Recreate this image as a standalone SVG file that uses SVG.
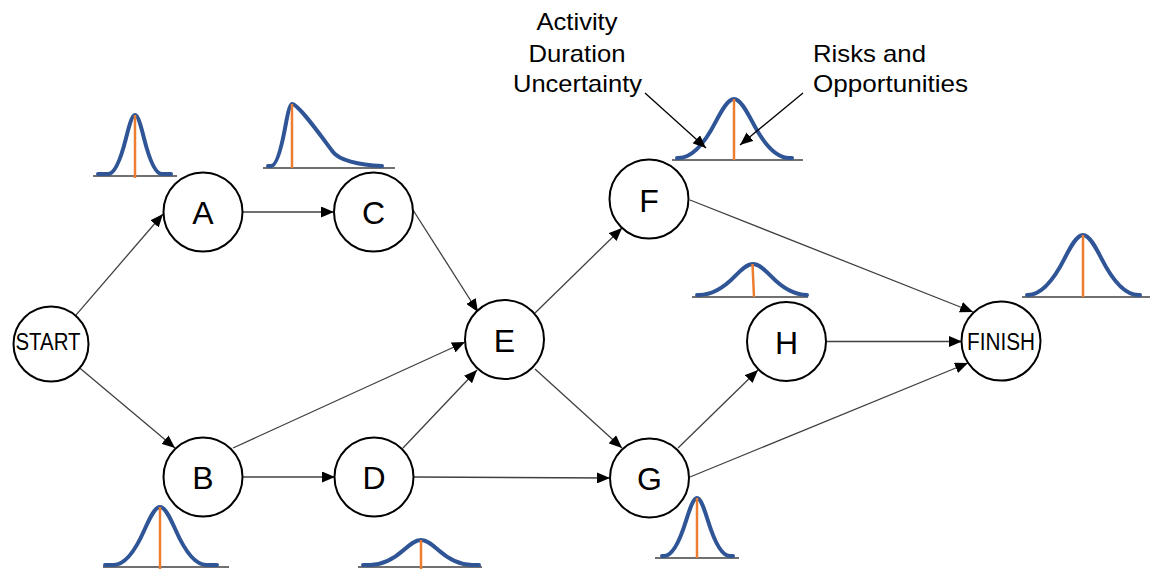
<svg xmlns="http://www.w3.org/2000/svg" width="1151" height="569" viewBox="0 0 1151 569">
  <style>
    .node circle { fill: #ffffff; stroke: #000000; stroke-width: 2; }
    .lbl { font-family: "Liberation Sans", Arial, sans-serif; font-size: 32px; fill: #000000; text-anchor: middle; }
    .lbl-sm { font-family: "Liberation Sans", Arial, sans-serif; font-size: 23px; fill: #000000; text-anchor: middle; }
    .note { font-family: "Liberation Sans", Arial, sans-serif; font-size: 24px; fill: #000000; }
    .edge { stroke: #404040; stroke-width: 1.3; fill: none; marker-end: url(#arrow); }
    .pointer { stroke: #000000; stroke-width: 1.3; fill: none; marker-end: url(#arrow); }
    .axis { stroke: #404040; stroke-width: 1.4; }
    .curve { fill: none; stroke: #2F5597; stroke-width: 4; stroke-linecap: round; stroke-linejoin: round; }
    .mean { stroke: #ED7D31; stroke-width: 2.5; }
  </style>
  <defs>
    <marker id="arrow" markerUnits="userSpaceOnUse" markerWidth="13" markerHeight="11" refX="13" refY="5.5" orient="auto">
      <path d="M0,0 L13,5.5 L0,11 Z" fill="#000000"/>
    </marker>
  </defs>

  <rect width="1151" height="569" fill="#ffffff"/>

  <!-- duration distributions -->
  <g id="distributions">
    <g id="dist-a">
      <line class="axis" x1="93" y1="176" x2="177" y2="176"/>
      <path class="curve" d="M98,174 H108 C114,174 120,162.1 126,138.2 C129,126.3 132,115 135,115 C138,115 141,126.3 144,138.2 C150,162.1 156,174 162,174 H171"/>
      <line class="mean" x1="135" y1="115" x2="135" y2="178"/>
    </g>
    <g id="dist-c">
      <line class="axis" x1="263" y1="168" x2="395" y2="168"/>
      <path class="curve" d="M268,166 H271 C275.7,166 280.3,153.5 285,128.4 C287.3,115.9 289.7,104 292,104 C298,104 318,132 333,152 C339,160 358,165 382,166"/>
      <line class="mean" x1="292" y1="104" x2="292" y2="168"/>
    </g>
    <g id="dist-f">
      <line class="axis" x1="672" y1="160" x2="803" y2="160"/>
      <path class="curve" d="M677,158 H678.5 C690.8,158 703.2,146.1 715.5,122.2 C721.7,110.3 727.8,99 734,99 C740.2,99 746.3,110.3 752.5,122.2 C764.8,146.1 777.2,158 789.5,158 H792"/>
      <line class="mean" x1="734" y1="99" x2="734" y2="160"/>
    </g>
    <g id="dist-h">
      <line class="axis" x1="692" y1="297" x2="808" y2="297"/>
      <path class="curve" d="M697,295 H699 C711,295 723,288.7 735,276.2 C741,269.9 747,264 753,264 C759,264 765,269.9 771,276.2 C783,288.7 795,295 807,295"/>
      <line class="mean" x1="752.5" y1="264" x2="754" y2="297"/>
    </g>
    <g id="dist-finish">
      <line class="axis" x1="1022" y1="297" x2="1150" y2="297"/>
      <path class="curve" d="M1027,295 H1027.5 C1039.8,295 1052.2,282.9 1064.5,258.6 C1070.7,246.5 1076.8,235 1083,235 C1089.2,235 1095.3,246.5 1101.5,258.6 C1113.8,282.9 1126.2,295 1138.5,295 H1140"/>
      <line class="mean" x1="1083" y1="235" x2="1083" y2="297"/>
    </g>
    <g id="dist-b">
      <line class="axis" x1="103" y1="567" x2="229" y2="567"/>
      <path class="curve" d="M105,565 H113.5 C123.8,565 134.2,553.3 144.5,529.8 C149.7,518.1 154.8,507 160,507 C165.2,507 170.3,518.1 175.5,529.8 C185.8,553.3 196.2,565 206.5,565 H217"/>
      <line class="mean" x1="160" y1="507" x2="160" y2="569"/>
    </g>
    <g id="dist-d">
      <line class="axis" x1="358" y1="567" x2="482" y2="567"/>
      <path class="curve" d="M363,565 H370 C381.3,565 392.7,559.9 404,549.8 C409.7,544.8 415.3,540 421,540 C426.7,540 432.3,544.8 438,549.8 C449.3,559.9 460.7,565 472,565 H479"/>
      <line class="mean" x1="421" y1="540" x2="421" y2="569"/>
    </g>
    <g id="dist-g">
      <line class="axis" x1="655" y1="558" x2="739" y2="558"/>
      <path class="curve" d="M662,556 H664 C671.3,556 678.7,544.3 686,520.8 C689.7,509.1 693.3,498 697,498 C700.7,498 704.3,509.1 708,520.8 C715.3,544.3 722.7,556 730,556 H733"/>
      <line class="mean" x1="697" y1="498" x2="697" y2="558"/>
    </g>
  </g>

  <!-- callouts for the F distribution -->
  <g id="annotations">
    <text class="note" text-anchor="middle" x="577" y="30" textLength="81" lengthAdjust="spacingAndGlyphs">Activity</text>
    <text class="note" text-anchor="middle" x="577" y="61.5" textLength="97" lengthAdjust="spacingAndGlyphs">Duration</text>
    <text class="note" text-anchor="middle" x="577.5" y="92" textLength="129" lengthAdjust="spacingAndGlyphs">Uncertainty</text>
    <text class="note" x="813" y="61.5" textLength="113" lengthAdjust="spacingAndGlyphs">Risks and</text>
    <text class="note" x="813" y="92" textLength="155" lengthAdjust="spacingAndGlyphs">Opportunities</text>
    <line class="pointer" x1="645" y1="93" x2="706" y2="148"/>
    <line class="pointer" x1="803" y1="93" x2="740" y2="145"/>
  </g>

  <!-- precedence links -->
  <g id="connectors">
    <line class="edge" x1="75.5" y1="315.6" x2="163" y2="214"/>
    <line class="edge" x1="79.7" y1="368.1" x2="175" y2="448"/>
    <line class="edge" x1="243" y1="212" x2="334" y2="212"/>
    <line class="edge" x1="243" y1="477" x2="335" y2="477"/>
    <line class="edge" x1="413" y1="210" x2="478" y2="312"/>
    <line class="edge" x1="233" y1="448" x2="465" y2="342"/>
    <line class="edge" x1="403" y1="448" x2="477" y2="370"/>
    <line class="edge" x1="535" y1="313" x2="622" y2="228"/>
    <line class="edge" x1="535" y1="369" x2="622" y2="448"/>
    <line class="edge" x1="413" y1="477" x2="610" y2="478"/>
    <line class="edge" x1="690" y1="200" x2="973" y2="312"/>
    <line class="edge" x1="678" y1="448" x2="758" y2="370"/>
    <line class="edge" x1="690" y1="477" x2="968" y2="363"/>
    <line class="edge" x1="826" y1="341.5" x2="962" y2="341.5"/>
  </g>

  <!-- activity nodes -->
  <g id="node-start" class="node">
    <circle cx="51" cy="344" r="37.5"/>
    <text class="lbl-sm" x="48" y="349.5" textLength="65" lengthAdjust="spacingAndGlyphs">START</text>
  </g>
  <g id="node-a" class="node">
    <circle cx="203" cy="212" r="39.5"/>
    <text class="lbl" x="203" y="224">A</text>
  </g>
  <g id="node-b" class="node">
    <circle cx="203" cy="477" r="39.5"/>
    <text class="lbl" x="203" y="489">B</text>
  </g>
  <g id="node-c" class="node">
    <circle cx="373.5" cy="212" r="39.5"/>
    <text class="lbl" x="373.5" y="224">C</text>
  </g>
  <g id="node-d" class="node">
    <circle cx="374" cy="477" r="39.5"/>
    <text class="lbl" x="374" y="489">D</text>
  </g>
  <g id="node-e" class="node">
    <circle cx="504.5" cy="339.5" r="39.5"/>
    <text class="lbl" x="504.5" y="352">E</text>
  </g>
  <g id="node-f" class="node">
    <circle cx="649" cy="199" r="39.5"/>
    <text class="lbl" x="649" y="211.5">F</text>
  </g>
  <g id="node-g" class="node">
    <circle cx="649.5" cy="478" r="39.5"/>
    <text class="lbl" x="649.5" y="490">G</text>
  </g>
  <g id="node-h" class="node">
    <circle cx="786.5" cy="341.5" r="39.5"/>
    <text class="lbl" x="786.5" y="353.5">H</text>
  </g>
  <g id="node-finish" class="node">
    <circle cx="1001" cy="341" r="39.5"/>
    <text class="lbl-sm" x="1001" y="350" textLength="68" lengthAdjust="spacingAndGlyphs">FINISH</text>
  </g>
</svg>
